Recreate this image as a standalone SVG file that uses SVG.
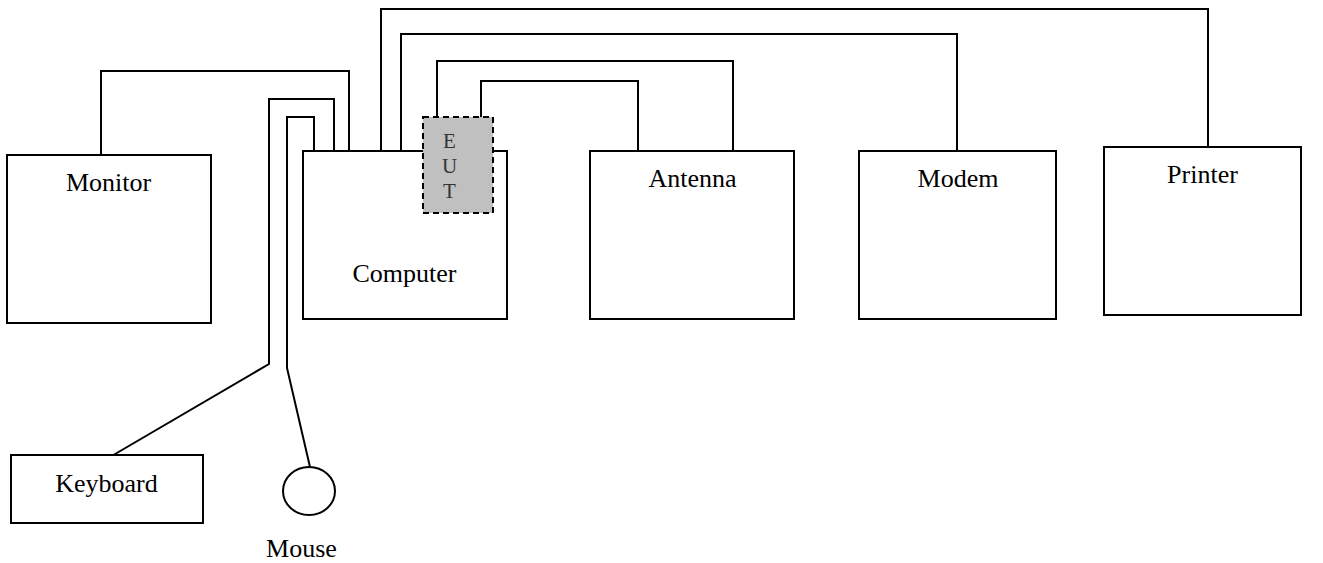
<svg xmlns="http://www.w3.org/2000/svg" width="1323" height="563" viewBox="0 0 1323 563">
<style>
.box{fill:#fff;stroke:#000;stroke-width:2}
.wire{fill:none;stroke:#000;stroke-width:2}
.lbl{font-family:"Liberation Serif","Times New Roman",serif;font-size:26px;fill:#000;text-anchor:middle}
.eut{font-family:"Liberation Serif","Times New Roman",serif;font-size:21px;fill:#333;text-anchor:middle}
</style>
<rect width="1323" height="563" fill="#fff"/>
<g id="connectors">
<path class="wire" d="M101,155 V71 H349 V151"/>
<path class="wire" d="M334,151 V99 H269 V364 L110,457"/>
<path class="wire" d="M314,151 V117 H287 V368 L310,467"/>
<path class="wire" d="M381,151 V9 H1208 V147"/>
<path class="wire" d="M401,151 V34 H957 V151"/>
<path class="wire" d="M437,117 V61 H733 V151"/>
<path class="wire" d="M481,117 V81 H638 V151"/>
</g>
<g id="monitor">
<rect class="box" x="7" y="155" width="204" height="168"/>
<text class="lbl" x="108.5" y="191">Monitor</text>
</g>
<g id="computer">
<rect class="box" x="303" y="151" width="204" height="168"/>
<text class="lbl" x="404.5" y="282">Computer</text>
</g>
<g id="eut">
<rect x="423" y="117" width="70" height="96" fill="#c0c0c0" stroke="#000" stroke-width="2" stroke-dasharray="6,4"/>
<text class="eut" x="449.5" y="148">E</text>
<text class="eut" x="449.5" y="173">U</text>
<text class="eut" x="449.5" y="198">T</text>
</g>
<g id="antenna">
<rect class="box" x="590" y="151" width="204" height="168"/>
<text class="lbl" x="692.5" y="187">Antenna</text>
</g>
<g id="modem">
<rect class="box" x="859" y="151" width="197" height="168"/>
<text class="lbl" x="958" y="187">Modem</text>
</g>
<g id="printer">
<rect class="box" x="1104" y="147" width="197" height="168"/>
<text class="lbl" x="1202.5" y="183">Printer</text>
</g>
<g id="keyboard">
<rect class="box" x="11" y="455" width="192" height="68"/>
<text class="lbl" x="106.5" y="492">Keyboard</text>
</g>
<g id="mouse">
<ellipse class="box" cx="309" cy="491" rx="26" ry="24"/>
<text class="lbl" x="301.5" y="557">Mouse</text>
</g>
</svg>
